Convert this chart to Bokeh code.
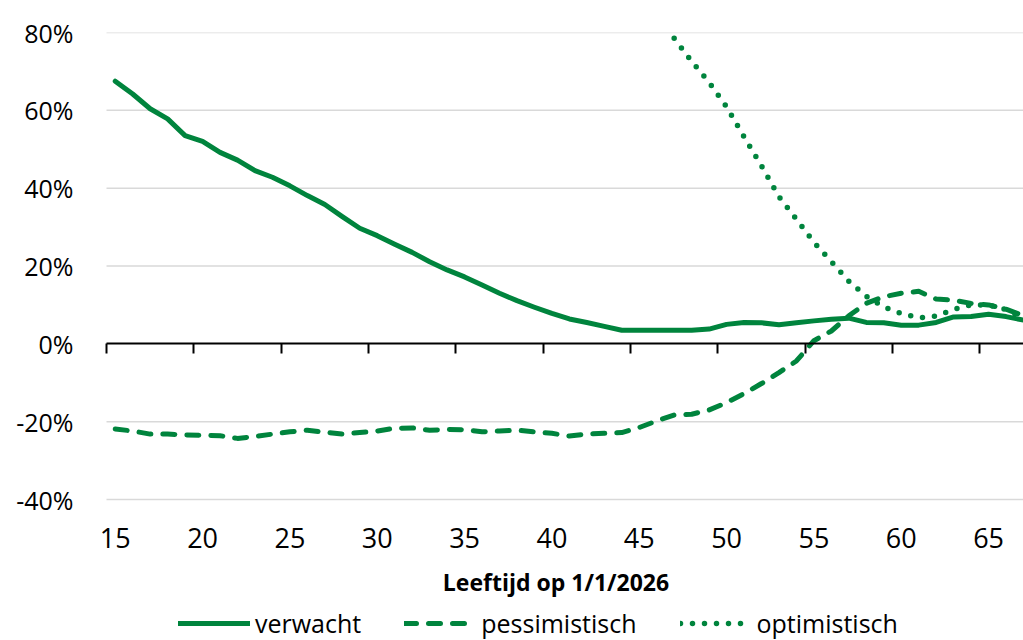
from bokeh.plotting import figure
from bokeh.models import (Range1d, FixedTicker, LinearAxis, NumeralTickFormatter,
                          Legend, LegendItem)
from bokeh.embed import file_html
from bokeh.resources import INLINE

# ---------------- data ----------------
ages = list(range(15, 68))
verwacht = [0.675, 0.642, 0.604, 0.578, 0.535, 0.520, 0.492, 0.472, 0.445, 0.428,
            0.406, 0.381, 0.358, 0.327, 0.297, 0.278, 0.256, 0.235, 0.211, 0.190,
            0.172, 0.151, 0.130, 0.111, 0.094, 0.078, 0.064, 0.055, 0.045, 0.035,
            0.035, 0.035, 0.035, 0.035, 0.038, 0.050, 0.055, 0.054, 0.049, 0.054,
            0.059, 0.063, 0.066, 0.055, 0.054, 0.048, 0.048, 0.055, 0.069, 0.070,
            0.076, 0.070, 0.061]
pessimistisch = [-0.219, -0.224, -0.232, -0.232, -0.234, -0.235, -0.236, -0.243, -0.238, -0.232,
                 -0.226, -0.222, -0.227, -0.232, -0.228, -0.224, -0.217, -0.216, -0.222, -0.220,
                 -0.221, -0.226, -0.224, -0.222, -0.226, -0.230, -0.237, -0.232, -0.230, -0.228,
                 -0.215, -0.198, -0.183, -0.181, -0.170, -0.151, -0.128, -0.102, -0.074, -0.044,
                 0.008, 0.033, 0.072, 0.104, 0.121, 0.130, 0.135, 0.115, 0.112, 0.104,
                 0.100, 0.089, 0.072]
optimistisch_start = 47
optimistisch = [0.785, 0.726, 0.672, 0.609, 0.532, 0.457, 0.378, 0.320, 0.261, 0.211,
                0.161, 0.122, 0.095, 0.078, 0.067, 0.071, 0.089, 0.100, 0.100, 0.088,
                0.066]
x_tick_labels = [15, 20, 25, 30, 35, 40, 45, 50, 55, 60, 65]
y_ticks = [-0.4, -0.2, 0.0, 0.2, 0.4, 0.6, 0.8]
x_title = "Leeftijd op 1/1/2026"
series_names = ["verwacht", "pessimistisch", "optimistisch"]

GREEN = "#00843D"
FONT = "Open Sans"

# category axis: categories 15..67, plot area from 14.5 to 67.0
X_LO, X_HI = ages[0] - 0.5, ages[-1]
PLOT_W, LEFT_PAD = 917, 18            # extra frame room left so "15" is not clipped
px_per_unit = PLOT_W / (X_HI - X_LO)
x_start = X_LO - LEFT_PAD / px_per_unit

# value axis -40%..80% spans 467 px; frame extended downwards by 141 px
Y_MIN, Y_MAX = y_ticks[0], y_ticks[-1]
PLOT_H, EXTRA_H = 467, 141
y_bottom = Y_MIN - EXTRA_H * (Y_MAX - Y_MIN) / PLOT_H

p = figure(frame_width=PLOT_W + LEFT_PAD, frame_height=PLOT_H + EXTRA_H,
           x_range=Range1d(x_start, X_HI), y_range=Range1d(y_bottom, Y_MAX),
           x_axis_location=None,
           output_backend="svg", toolbar_location=None,
           min_border_left=106 - LEFT_PAD, min_border_right=0, min_border_top=32,
           min_border_bottom=0, background_fill_color="white",
           border_fill_color="white")
p.outline_line_color = None

# horizontal grid lines, limited to the plot area
p.xgrid.visible = False
p.ygrid.visible = False
grid_vals = [t for t in y_ticks if t != 0]
p.segment(x0=[X_LO] * len(grid_vals), x1=[X_HI] * len(grid_vals),
          y0=grid_vals, y1=grid_vals, line_color="#d9d9d9", line_width=1.5)

# y axis
p.yaxis.ticker = FixedTicker(ticks=y_ticks)
p.yaxis.formatter = NumeralTickFormatter(format="0%")
p.yaxis.axis_line_color = None
p.yaxis.major_tick_line_color = None
p.yaxis.minor_tick_line_color = None
p.yaxis.major_label_text_font = FONT
p.yaxis.major_label_text_font_size = "25px"
p.yaxis.major_label_text_color = "#000000"
p.yaxis.major_label_standoff = 27 - LEFT_PAD

# x axis with labels, drawn at the bottom of the value range
label_axis = LinearAxis(fixed_location=Y_MIN, ticker=FixedTicker(ticks=x_tick_labels),
                        axis_line_color=None, major_tick_line_color=None,
                        minor_tick_line_color=None,
                        major_label_text_font=FONT, major_label_text_font_size="27px",
                        major_label_text_color="#000000", major_label_standoff=22,
                        axis_label=x_title, axis_label_text_font=FONT,
                        axis_label_text_font_size="23px",
                        axis_label_text_font_style="bold",
                        axis_label_text_color="#000000", axis_label_standoff=15)
p.add_layout(label_axis, "below")

# zero axis with boundary tick marks (drawn at y=0)
boundary_ticks = [t - 0.5 for t in x_tick_labels]
zero_axis = LinearAxis(fixed_location=0, ticker=FixedTicker(ticks=boundary_ticks),
                       bounds=(X_LO, X_HI),
                       major_label_overrides={t: "" for t in boundary_ticks},
                       major_label_text_font_size="1px", major_label_standoff=0,
                       axis_line_color="#000000", axis_line_width=2,
                       major_tick_line_color="#000000", major_tick_line_width=2,
                       major_tick_in=10, major_tick_out=0,
                       minor_tick_line_color=None)
p.add_layout(zero_axis, "above")

# lines
r1 = p.line(ages, verwacht, line_width=5, line_color=GREEN,
            line_cap="round", line_join="round")
r2 = p.line(ages, pessimistisch, line_width=5, line_color=GREEN,
            line_dash="12 12", line_cap="round", line_join="round")
i0 = ages.index(optimistisch_start)
r3 = p.line(ages[i0:i0 + len(optimistisch)], optimistisch, line_width=5.5,
            line_color=GREEN, line_dash="0 12", line_cap="round", line_join="round")

legend = Legend(items=[LegendItem(label=series_names[0], renderers=[r1]),
                       LegendItem(label=series_names[1], renderers=[r2]),
                       LegendItem(label=series_names[2], renderers=[r3])],
                orientation="horizontal", location=(72 + LEFT_PAD, 0),
                glyph_width=72, glyph_height=20, label_standoff=5, spacing=43,
                padding=0, margin=0, border_line_color=None,
                background_fill_alpha=0,
                label_text_font=FONT, label_text_font_size="25px",
                label_text_color="#000000")
p.add_layout(legend, "center")

open("out.html", "w").write(file_html(p, INLINE))
